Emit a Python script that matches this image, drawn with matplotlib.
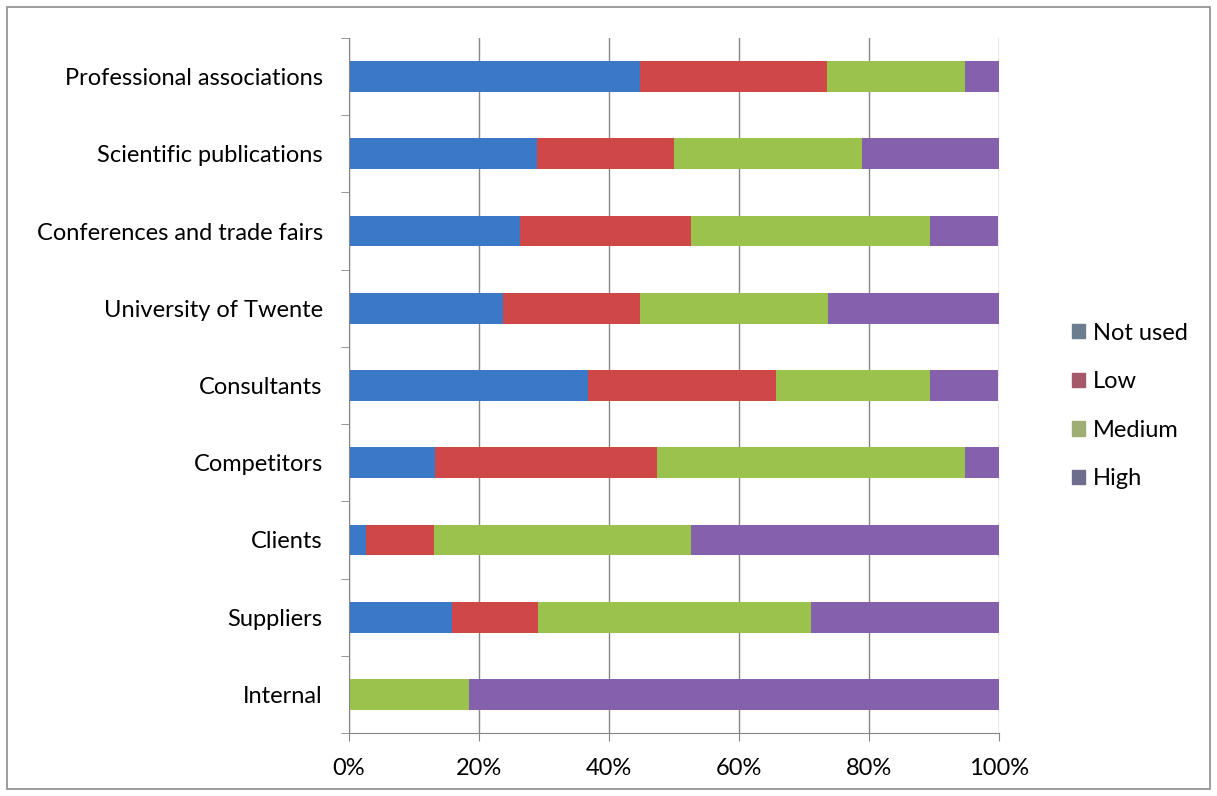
import numpy as np
import matplotlib.pyplot as plt
from matplotlib.patches import Patch, Rectangle

# categories from top to bottom
categories = ["Professional associations", "Scientific publications",
              "Conferences and trade fairs", "University of Twente",
              "Consultants", "Competitors", "Clients", "Suppliers", "Internal"]

# share of respondents (%) per level of use
not_used = [44.7, 28.9, 26.3, 23.7, 36.8, 13.2, 2.6, 15.8, 0.0]
low = [28.9, 21.1, 26.3, 21.1, 28.9, 34.2, 10.5, 13.2, 0.0]
medium = [21.1, 28.9, 36.8, 28.9, 23.7, 47.4, 39.5, 42.1, 18.4]
high = [5.3, 21.1, 10.5, 26.3, 10.5, 5.3, 47.4, 28.9, 81.6]

series = [("Not used", not_used), ("Low", low), ("Medium", medium), ("High", high)]
colors = ["#3b79c6", "#d04747", "#9bc24d", "#8561ad"]
legend_colors = ["#6c7d90", "#a5596a", "#9fae74", "#6e6d8e"]

plt.rcParams["font.family"] = ["Lato", "DejaVu Sans"]
fs = 17

fig = plt.figure(figsize=(12.17, 7.96), dpi=100)
ax = fig.add_axes([0.2868, 0.0791, 0.5341, 0.8732])

y = np.arange(len(categories))[::-1]
left = np.zeros(len(categories))
for (name, vals), c in zip(series, colors):
    vals = np.array(vals)
    ax.barh(y, vals, left=left, height=0.4, color=c, label=name, zorder=2)
    left += vals

ax.set_xlim(0, 100)
ax.set_ylim(-0.5, len(categories) - 0.5)
ax.set_xticks(np.arange(0, 101, 20))
ax.set_xticklabels([f"{v}%" for v in range(0, 101, 20)], fontsize=fs)
ax.set_yticks(y)
ax.set_yticklabels(categories, fontsize=fs)
ax.tick_params(axis="y", length=0, pad=19)
ax.tick_params(axis="x", length=6, color="#868686", pad=12)

# category separators on the value axis
ax.set_yticks(np.arange(-0.5, len(categories), 1), minor=True)
ax.tick_params(axis="y", which="minor", length=6, color="#868686")

ax.grid(axis="x", color="#868686", linewidth=1, zorder=0)
ax.set_axisbelow(True)
for s in ["top", "right"]:
    ax.spines[s].set_visible(False)
for s in ["left", "bottom"]:
    ax.spines[s].set_color("#868686")

handles = [Patch(color=c) for c in legend_colors]
fig.legend(handles, [s[0] for s in series], loc="center left",
           bbox_to_anchor=(0.863, 0.49), frameon=False, fontsize=fs,
           handlelength=0.55, handleheight=0.55, handletextpad=0.35,
           labelspacing=1.17)

# chart border
fig.patches.append(Rectangle((7 / 1217, 7 / 796), 1203 / 1217, 782 / 796,
                             transform=fig.transFigure, fill=False,
                             edgecolor="#8c8c8c", linewidth=1.2))

fig.savefig("out.png", dpi=100)
